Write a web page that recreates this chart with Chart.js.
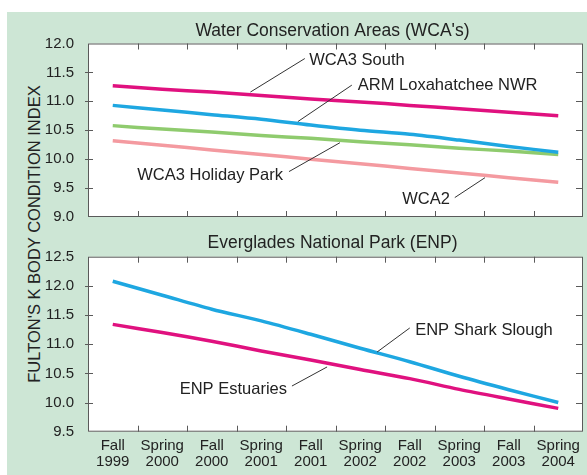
<!DOCTYPE html>
<html>
<head>
<meta charset="utf-8">
<script src="https://cdn.jsdelivr.net/npm/chart.js@4/dist/chart.umd.min.js"></script>
<style>
  body { margin: 0; background: #fff; }
  #wrap { position: relative; width: 587px; height: 475px; overflow: hidden; }
  #panel { position: absolute; left: 7px; top: 12px; right: 0; bottom: 0; background: #cde6d5; }
  canvas { position: absolute; left: 0; }
  #ytitle {
    position: absolute; left: 34px; top: 234px; white-space: nowrap;
    transform: translate(-50%, -50%) rotate(-90deg);
    font: 16.5px "Liberation Sans", Arial, sans-serif; color: #222;
  }
</style>
</head>
<body>
<div id="wrap">
  <div id="panel"></div>
  <div id="ytitle">FULTON'S K BODY CONDITION INDEX</div>
  <canvas id="wca" width="587" height="232" style="top:0"></canvas>
  <canvas id="enp" width="587" height="243" style="top:232px"></canvas>
</div>
<script>
// categories
const seasons = ["Fall", "Spring", "Fall", "Spring", "Fall", "Spring", "Fall", "Spring", "Fall", "Spring"];
const years = ["1999", "2000", "2000", "2001", "2001", "2002", "2002", "2003", "2003", "2004"];

// Water Conservation Areas
const wca3South = [11.27, 11.21, 11.16, 11.10, 11.04, 10.99, 10.93, 10.87, 10.81, 10.75];
const armLoxahatchee = [10.93, 10.85, 10.77, 10.69, 10.59, 10.50, 10.43, 10.33, 10.22, 10.12];
const wca3Holiday = [10.58, 10.52, 10.47, 10.41, 10.36, 10.30, 10.25, 10.19, 10.14, 10.08];
const wca2 = [10.32, 10.24, 10.16, 10.08, 10.00, 9.92, 9.84, 9.76, 9.68, 9.60];

// Everglades National Park
const enpShark = [12.08, 11.84, 11.60, 11.40, 11.17, 10.93, 10.70, 10.45, 10.22, 10.00];
const enpEstuaries = [11.34, 11.20, 11.05, 10.885, 10.73, 10.565, 10.41, 10.225, 10.06, 9.90];

const labels = seasons.map((s, i) => [s, years[i]]);
const FONT = '"Liberation Sans", Arial, sans-serif';

const framePlugin = {
  id: 'frame',
  beforeDatasetsDraw(chart) {
    const { ctx, chartArea: a } = chart;
    ctx.save();
    ctx.fillStyle = '#fff';
    ctx.fillRect(a.left, a.top, a.right - a.left, a.bottom - a.top);
    ctx.restore();
  },
  afterDatasetsDraw(chart, args, opts) {
    const { ctx, chartArea: a, scales } = chart;
    const x = scales.x, y = scales.y;
    ctx.save();
    ctx.strokeStyle = '#5a5a5a';
    ctx.lineWidth = 1;
    ctx.strokeRect(a.left + 0.5, a.top + 0.5, a.right - a.left - 1, a.bottom - a.top - 1);
    ctx.beginPath();
    for (let i = 0; i < labels.length - 1; i++) {
      const px = Math.round((x.getPixelForValue(i) + x.getPixelForValue(i + 1)) / 2) + 0.5;
      ctx.moveTo(px, a.top); ctx.lineTo(px, a.top + 6);
      ctx.moveTo(px, a.bottom); ctx.lineTo(px, a.bottom - 6);
    }
    y.ticks.forEach(t => {
      if (t.value <= y.min || t.value >= y.max) return;
      const py = Math.round(y.getPixelForValue(t.value)) + 0.5;
      ctx.moveTo(a.left - 3, py); ctx.lineTo(a.left + 5, py);
      ctx.moveTo(a.right, py); ctx.lineTo(a.right - 7, py);
    });
    ctx.stroke();

    // title
    ctx.fillStyle = '#222';
    ctx.font = '17.5px ' + FONT;
    ctx.textAlign = 'center';
    ctx.textBaseline = 'middle';
    ctx.fillText(opts.title, (a.left + a.right) / 2 - 3, opts.titleY);

    // annotations with leader lines
    ctx.font = '16.5px ' + FONT;
    opts.notes.forEach(n => {
      ctx.beginPath();
      ctx.strokeStyle = '#333';
      ctx.lineWidth = 1;
      ctx.moveTo(x.getPixelForValue(n.line[0]), y.getPixelForValue(n.line[1]));
      ctx.lineTo(x.getPixelForValue(n.line[2]), y.getPixelForValue(n.line[3]));
      ctx.stroke();
      ctx.textAlign = n.align;
      ctx.fillText(n.text, x.getPixelForValue(n.at[0]), y.getPixelForValue(n.at[1]));
    });
    ctx.restore();
  }
};

function series(label, data, color) {
  return { label, data, borderColor: color, borderWidth: 3.5, pointRadius: 0, tension: 0.3, fill: false };
}

function makeChart(id, datasets, yMin, yMax, showX, pad, xHeight, plugOpts) {
  return new Chart(document.getElementById(id), {
    type: 'line',
    data: { labels, datasets },
    options: {
      responsive: false,
      animation: false,
      devicePixelRatio: 1,
      layout: { padding: pad },
      plugins: { legend: { display: false }, tooltip: { enabled: false }, frame: plugOpts },
      scales: {
        x: {
          offset: true,
          grid: { display: false, drawTicks: false },
          border: { display: false },
          ticks: {
            display: showX, color: '#222', padding: 6, maxRotation: 0, autoSkip: false,
            font: { family: FONT, size: 15, lineHeight: 1.07 }
          },
          afterFit: s => { s.height = xHeight; }
        },
        y: {
          min: yMin, max: yMax,
          grid: { display: false },
          border: { display: false },
          ticks: {
            stepSize: 0.5, color: '#222', padding: 6,
            font: { family: FONT, size: 15 },
            callback: v => v.toFixed(1)
          },
          afterFit: s => { s.width = 88; }
        }
      }
    },
    plugins: [framePlugin]
  });
}

makeChart('wca', [
  series('WCA3 South', wca3South, '#e0117f'),
  series('ARM Loxahatchee NWR', armLoxahatchee, '#1ea7e1'),
  series('WCA3 Holiday Park', wca3Holiday, '#8fcb6e'),
  series('WCA2', wca2, '#f49aa0')
], 9, 12, false, { top: 43.5, right: 4, bottom: 14.5, left: 0 }, 0, {
  title: "Water Conservation Areas (WCA's)", titleY: 31,
  notes: [
    { text: 'WCA3 South', align: 'left', at: [3.97, 11.71], line: [2.78, 11.16, 3.88, 11.74] },
    { text: 'ARM Loxahatchee NWR', align: 'left', at: [4.95, 11.28], line: [3.74, 10.65, 4.83, 11.28] },
    { text: 'WCA3 Holiday Park', align: 'right', at: [3.44, 9.72], line: [3.56, 9.785, 4.59, 10.285] },
    { text: 'WCA2', align: 'right', at: [6.81, 9.30], line: [6.91, 9.336, 7.52, 9.68] }
  ]
});

makeChart('enp', [
  series('ENP Shark Slough', enpShark, '#1ea7e1'),
  series('ENP Estuaries', enpEstuaries, '#e0117f')
], 9.5, 12.5, true, { top: 24.7, right: 4, bottom: 0, left: 0 }, 43.3, {
  title: 'Everglades National Park (ENP)', titleY: 11.5,
  notes: [
    { text: 'ENP Shark Slough', align: 'left', at: [6.11, 11.243], line: [5.34, 10.866, 6.0, 11.278] },
    { text: 'ENP Estuaries', align: 'right', at: [3.52, 10.232], line: [3.62, 10.283, 4.33, 10.61] }
  ]
});
</script>
</body>
</html>
